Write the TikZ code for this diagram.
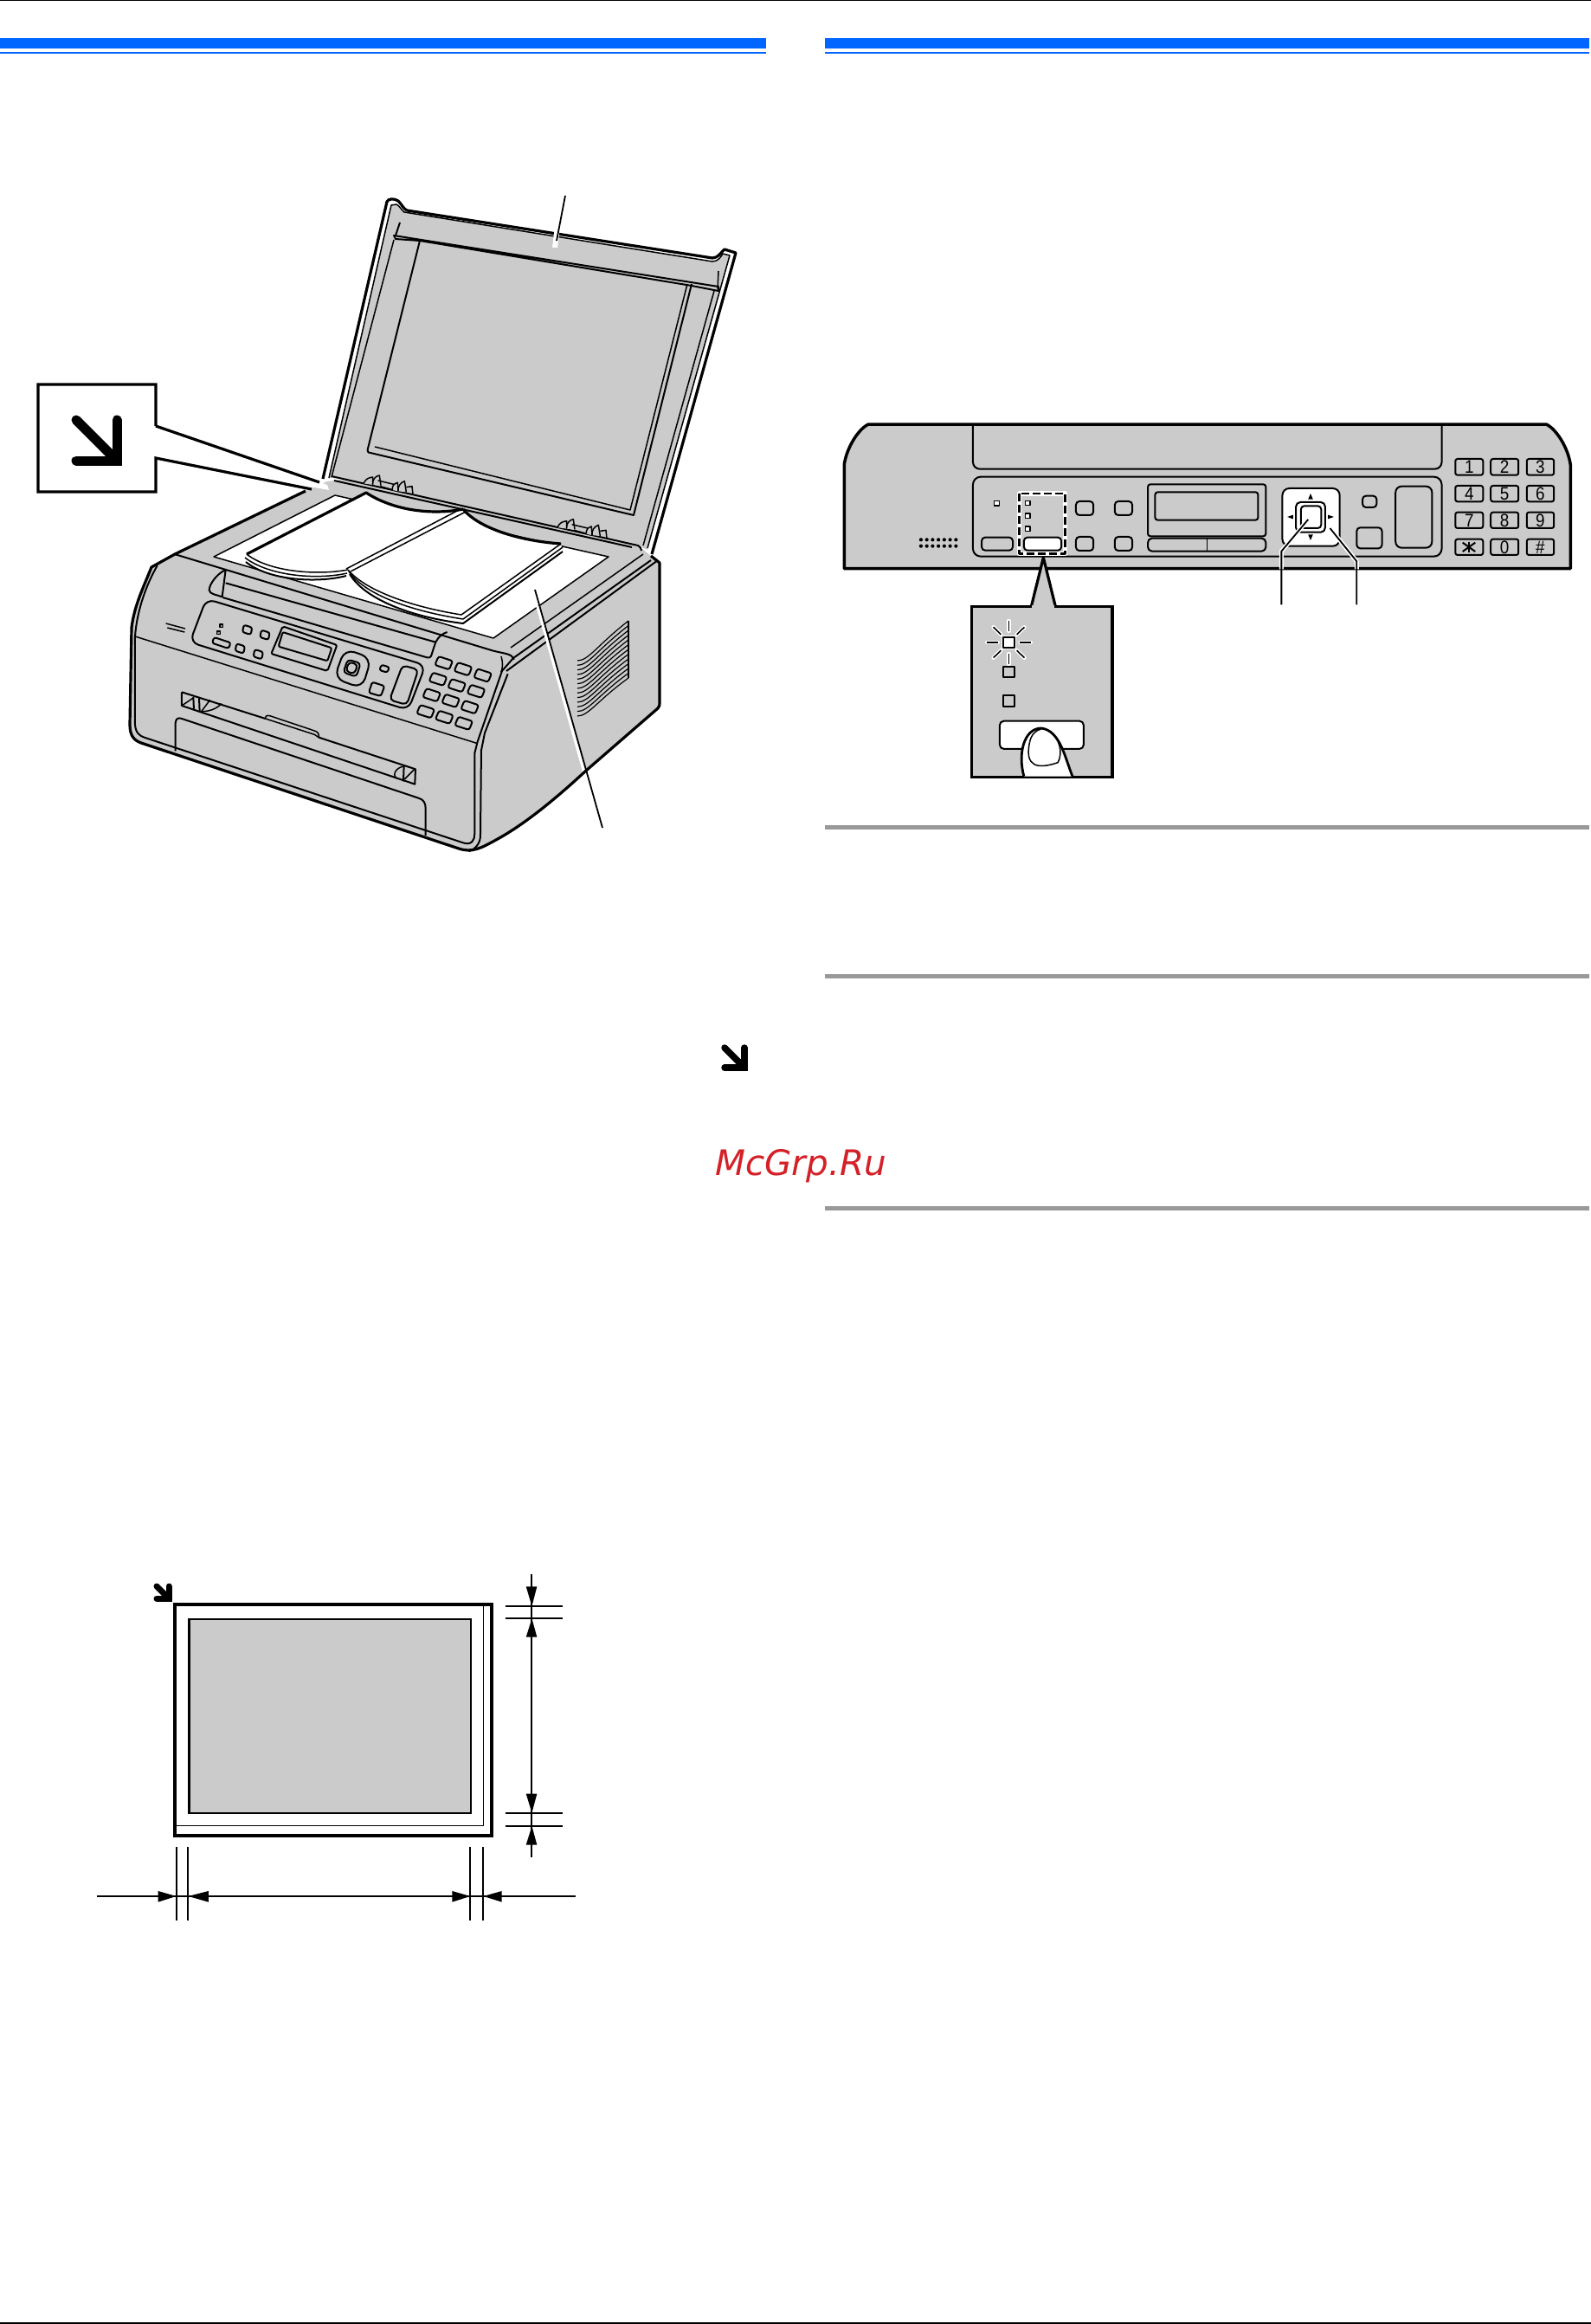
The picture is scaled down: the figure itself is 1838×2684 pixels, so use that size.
\documentclass[tikz,border=0pt]{standalone}
\usepackage{fontspec}
\setmainfont{DejaVu Sans}
\newfontfamily\keyfont{Liberation Sans}
\definecolor{ink}{HTML}{000000}
\definecolor{fillgray}{HTML}{CBCBCB}
\definecolor{barblue}{HTML}{0066FF}
\definecolor{rulegray}{HTML}{999999}
\definecolor{markred}{HTML}{D42027}
\tikzset{
  thinl/.style={draw=ink,line width=1.5pt},
  medl/.style={draw=ink,line width=2pt},
  heavyl/.style={draw=ink,line width=3.2pt},
  gfill/.style={fill=fillgray},
  wfill/.style={fill=white},
  leaderl/.style={draw=ink,line width=1.8pt},
  keycap/.style={draw=ink,line width=2pt,rounded corners=2.5pt},
  softbtn/.style={draw=ink,line width=2pt,rounded corners=4pt},
  dimhead/.style={fill=ink,draw=none},
  P5/.style={shift={(130pt,-640pt)},x=0.3333pt,y=-0.3333pt},
  HG/.style={shift={(400pt,-540pt)},x=0.3333pt,y=-0.3333pt},
  PN/.style={shift={(950pt,-460pt)},x=0.5612pt,y=-0.3333pt},
  P3/.style={shift={(80pt,-1800pt)},x=0.395pt,y=-0.3333pt},
}
\newcommand{\markarrow}[4]{% x, y of the lower-left end, size, width
  \draw[draw=ink,line width=#4pt,line cap=round] (#1,#2-#3) -- ++(#3,#3);
  \draw[draw=ink,line width=#4pt,line cap=round,line join=miter] (#1,#2) -- ++(#3,0) -- ++(0,-#3);
}
\newcommand{\prkey}[2]{\draw[keycap,shift={(#1,#2)}] (-18,-23) -- (31,-7) -- (19,23) -- (-31,7) -- cycle;}
\newcommand{\prbtn}[2]{\draw[keycap,shift={(#1,#2)}] (-12,-17) -- (17,-8) -- (12,17) -- (-17,8) -- cycle;}
\newcommand{\pkey}[6]{\draw[keycap] (#1,#2) rectangle (#3,#4); \node[font=\keyfont\fontsize{21}{21}\selectfont,inner sep=0pt,xscale=0.9] (#6) at ({(#1+#3)/2},{(#2+#4)/2}) {#5};}
\newcommand{\hingepart}{%
  \draw[thinl,gfill] (60,55) .. controls (68,38) and (78,35) .. (92,33) -- (92,60);
  \draw[thinl,gfill] (92,60) .. controls (90,42) and (100,30) .. (115,27) -- (120,62);
  \draw[thinl] (110,45) -- (165,58);
  \draw[thinl] (118,65) -- (160,77);
  \draw[thinl,gfill] (160,78) .. controls (158,65) and (165,55) .. (178,52) -- (180,82);
  \draw[thinl,gfill] (180,82) .. controls (178,65) and (188,52) .. (202,47) -- (208,85);
  \draw[thinl] (208,68) -- (228,65) -- (231,93);
}
\begin{document}
\begin{tikzpicture}[x=1pt,y=-1pt,line join=round]
\useasboundingbox (0,0) rectangle (1838,2684);
\fill[white] (0,0) rectangle (1838,2684);
% page furniture
\fill[ink] (0,0) rectangle (1838,1.5);
\fill[ink] (0,2682) rectangle (1838,2684);
\fill[barblue] (0,44) rectangle (885,56);
\fill[barblue] (0,60) rectangle (885,62);
\fill[barblue] (953,44) rectangle (1836,56);
\fill[barblue] (953,60) rectangle (1836,62);
\fill[rulegray] (953,953) rectangle (1836,958);
\fill[rulegray] (953,1125) rectangle (1836,1130);
\fill[rulegray] (953,1393) rectangle (1836,1398);
% ---------- printer: body fill
\path[gfill] (353,567) -- (202,640) -- (175,655) .. controls (165,680) and (155,700) .. (152,725) -- (150,837)
  .. controls (150,850) and (155,855) .. (163,858) -- (530,980) .. controls (545,985) and (555,980) .. (573,970)
  .. controls (610,950) and (650,915) .. (677,890) -- (760,818) .. controls (762,815) and (762,815) .. (762,812) -- (762,650) -- (752,642) -- (737,630) -- (400,553) -- (378,556) -- cycle;
% lid
\path[wfill] (373,553) -- (447,233) .. controls (449,229) and (455,229) .. (460,232) .. controls (464,236) and (466,241) .. (470,243) -- (823,298) .. controls (830,298) and (833,291) .. (837,288) -- (850,292) -- (753,640) -- (737,630) -- (400,553) -- cycle;
\path[gfill] (380,552) -- (452,237) -- (458,236) .. controls (462,238) and (464,243) .. (467,245) -- (823,302) .. controls (830,302) and (833,296) .. (835,293) -- (843,295) -- (748,635) -- (737,630) -- (400,553) -- cycle;
\draw[heavyl] (373,553) -- (447,233) .. controls (449,229) and (455,229) .. (460,232) .. controls (464,236) and (466,241) .. (470,243) -- (823,298) .. controls (830,298) and (833,291) .. (837,288) -- (850,292) -- (753,640);
\draw[thinl] (380,552) -- (452,237) -- (458,236) .. controls (462,238) and (464,243) .. (467,245) -- (823,302) .. controls (830,302) and (833,296) .. (835,293) -- (843,295) -- (748,633);
% lid inner lines
\draw[medl] (462,257) -- (457,272);
\draw[medl] (455,272) -- (830,331) -- (830,336) -- (799,330) -- (485,278) -- (457,276) -- cycle;
\draw[thinl] (455,277) -- (383,551);
\draw[medl] (485,278) -- (425,518) .. controls (424,521) and (425,523) .. (428,523) -- (732,595) -- (799,328);
\draw[thinl] (433,516) -- (728,589) -- (794,328);
\draw[thinl] (830,313) -- (829,334);
\draw[thinl] (825,336) -- (743,630);
% lid hinge edge
\draw[medl] (383,550) -- (737,630) .. controls (740,632) and (741,634) .. (741,636);
\draw[medl] (386,555) -- (730,632);
% hinges
\begin{scope}[HG] \hingepart \end{scope}
\begin{scope}[HG,shift={(224pt,-50.7pt)}] \hingepart \end{scope}
% glass
\path[wfill] (247,643) -- (387,572) -- (703,643) -- (570,737) -- cycle;
\draw[thinl] (387,572) -- (703,643) -- (570,737) -- (247,643) -- cycle;
% book
\path[wfill] (285,640) -- (423,569) .. controls (455,590) and (500,595) .. (535,588)
 .. controls (555,612) and (605,625) .. (648,628) -- (650,638) -- (535,720) .. controls (470,710) and (420,690) .. (402,664)
 .. controls (360,672) and (300,668) .. (283,648) -- cycle;
\draw[heavyl] (285,640) -- (423,569) .. controls (455,590) and (500,595) .. (535,588);
\draw[heavyl] (535,588) .. controls (555,612) and (605,625) .. (648,628);
\draw[thinl] (648,628) -- (533,710) .. controls (470,700) and (420,680) .. (402,658);
\draw[thinl] (285,640) .. controls (310,660) and (365,665) .. (402,658);
\draw[thinl] (530,589) -- (400,657);
\draw[thinl] (538,591) -- (405,660);
\draw[thinl] (283,644) .. controls (310,665) and (365,670) .. (401,662);
\draw[medl] (284,649) .. controls (310,670) and (365,674) .. (400,665);
\draw[thinl] (650,632) -- (535,715) .. controls (470,705) and (420,685) .. (403,660);
\draw[medl] (650,637) -- (535,720) .. controls (470,712) and (420,690) .. (404,663);
% side vent
\foreach \i in {0,...,12} {\draw[thinl,line width=1.2pt] (667,{763+\i*5.33}) .. controls (680,{763+\i*5.33}) and (690,{745+\i*5.33}) .. (726,{717+\i*5.5});}
\draw[thinl] (726,717) -- (726,783);
% right rim lines
\draw[thinl] (590,748) -- (743,640);
\draw[medl] (593,760) -- (752,647);
\draw[medl] (585,775) -- (760,647);
\draw[medl] (579,776) -- (593,760);
\draw[thinl] (579,758) .. controls (581,765) and (581,770) .. (579,776);
% callout
\path[wfill] (44,444) -- (180,444) -- (180,492) -- (378,560) -- (380,566) -- (180,529) -- (180,568) -- (44,568) -- cycle;
\draw[heavyl,line join=miter] (180,492) -- (180,444) -- (44,444) -- (44,568) -- (180,568) -- (180,529) -- (360,565);
\draw[heavyl] (180,492) -- (369,557);
\markarrow{88}{532}{47}{11}
% leaders
\draw[draw=white,line width=6pt] (644,262) -- (641,286);
\draw[leaderl] (653,226) -- (643,278);
\draw[draw=white,line width=3.5pt] (621,700) -- (675,892);
% body outlines
\draw[heavyl] (353,567) -- (202,640) -- (175,655) .. controls (165,680) and (155,700) .. (152,725) -- (150,837)
  .. controls (150,850) and (155,855) .. (163,858) -- (530,980) .. controls (545,985) and (555,980) .. (573,970)
  .. controls (610,950) and (650,915) .. (677,890) -- (760,818) .. controls (762,815) and (762,815) .. (762,812) -- (762,650) -- (752,642);
\draw[leaderl] (618,681) -- (696,956);
\begin{scope}[P5]
\draw[medl] (155,40) .. controls (120,100) and (85,190) .. (78,285) -- (78,590) .. controls (80,620) and (95,630) .. (110,635) -- (1215,1000) .. controls (1245,1010) and (1255,990) .. (1255,970) -- (1255,690) -- (1265,650) -- (1350,405);
\draw[medl] (1370,415) -- (1290,620) -- (1278,680) -- (1275,980) .. controls (1272,1010) and (1250,1025) .. (1235,1030);
\draw[thinl] (78,285) -- (1262,655);
% top front edge
\draw[medl] (215,0) -- (1320,335) .. controls (1360,345) and (1385,345) .. (1392,365);
% tray notch
\draw[medl] (390,55) .. controls (360,70) and (335,105) .. (335,125) .. controls (338,140) and (360,140) .. (380,148) -- (392,55);
\draw[medl] (392,100) -- (1120,305);
\draw[medl] (382,150) -- (1090,358) .. controls (1105,362) and (1105,350) .. (1110,335) -- (1120,305) .. controls (1130,285) and (1145,275) .. (1160,270);
% control panel
\draw[medl,rounded corners=10pt] (325,155) -- (1085,385) -- (1025,540) -- (268,305) -- cycle;
\draw[thinl] (185,240) -- (252,258);
\draw[thinl] (190,255) -- (250,270);
\draw[thinl,fill=fillgray!70!black] (372,243) rectangle (382,253);
\draw[thinl,fill=fillgray!70!black] (362,267) rectangle (373,278);
\draw[keycap] (352,288) -- (410,307) -- (402,327) -- (345,308) -- cycle;
\prbtn{467}{262}\prbtn{528}{280}\prbtn{442}{327}\prbtn{505}{347}
\draw[medl,rounded corners=2pt] (590,250) -- (778,315) -- (745,405) -- (550,345) -- cycle;
\draw[medl,rounded corners=2pt] (590,270) -- (760,325) -- (745,370) -- (575,320) -- cycle;
\draw[medl,rounded corners=12pt] (805,328) -- (897,360) -- (865,465) -- (768,430) -- cycle;
\draw[medl,rounded corners=4pt] (815,365) -- (860,378) -- (845,425) -- (800,410) -- cycle;
\draw[medl,rounded corners=4pt] (820,373) -- (850,383) -- (838,415) -- (808,405) -- cycle;
\draw[keycap] (932,383) -- (960,392) -- (952,410) -- (925,402) -- cycle;
\draw[keycap] (900,443) -- (943,457) -- (930,492) -- (888,480) -- cycle;
\draw[medl,rounded corners=5pt] (1005,385) -- (1060,400) -- (1020,522) -- (960,505) -- cycle;
\prkey{1148}{377}\prkey{1215}{398}\prkey{1283}{420}
\prkey{1128}{433}\prkey{1193}{455}\prkey{1260}{475}
\prkey{1106}{488}\prkey{1172}{508}\prkey{1238}{530}
\prkey{1085}{545}\prkey{1150}{565}\prkey{1217}{586}
% paper slot
\draw[medl] (240,478) -- (530,570);
\draw[medl] (240,478) -- (240,525) -- (1048,797) -- (1050,745) -- (715,635);
\draw[thinl] (530,570) .. controls (530,560) and (535,558) .. (545,560) -- (700,612) .. controls (712,616) and (716,622) .. (715,635);
\draw[thinl] (530,570) -- (700,625) -- (715,635);
\draw[medl] (280,495) -- (282,540); \draw[medl] (300,495) -- (302,548);
\draw[thinl] (240,525) -- (280,498);
\draw[thinl] (308,545) -- (338,505);
\draw[thinl] (308,545) .. controls (340,545) and (360,535) .. (378,518);
\draw[medl] (1010,735) -- (1008,787);
\draw[thinl] (988,778) .. controls (968,770) and (978,740) .. (1010,735);
\draw[thinl] (1012,780) -- (1045,747);
% cover
\draw[medl] (218,682) -- (218,585) .. controls (220,568) and (228,566) .. (240,570) -- (1060,845) .. controls (1080,850) and (1085,865) .. (1085,880) -- (1085,975);
\end{scope}
% ---------- control panel
\begin{scope}[PN]
\draw[heavyl,gfill,line width=3.5pt] (45,590) -- (45,230) .. controls (50,170) and (75,105) .. (95,90) -- (1490,90)
  .. controls (1510,105) and (1535,170) .. (1540,230) -- (1540,590) -- cycle;
\draw[medl,rounded corners=8pt] (310,92) -- (310,245) -- (1275,245) -- (1275,92);
\draw[medl,rounded corners=9pt] (310,272) rectangle (1275,548);
\foreach \y in {490,512} \foreach \x in {203,215,...,277} {\fill[ink] (\x,\y) circle[radius=2.1pt];}
\draw[thinl,fill=white] (354,355) rectangle (364,372);
\foreach \y in {363,407,452} {\draw[thinl,fill=white] (418,\y-8) rectangle (428,\y+8);}
\draw[softbtn] (328,482) rectangle (392,527);
\draw[softbtn,fill=white] (415,482) rectangle (492,527);
\draw[white,line width=5.5pt] (405,330) rectangle (500,538);
\draw[ink,line width=2.6pt,dash pattern=on 9pt off 4pt] (405,330) rectangle (500,538);
\foreach \x in {540,620} \foreach \y in {381,504} {\draw[softbtn] (\x-18,\y-24) rectangle (\x+18,\y+24);}
\draw[medl,rounded corners=3pt] (670,298) rectangle (913,478);
\draw[medl,rounded corners=3pt] (685,325) rectangle (897,422);
\draw[medl,rounded corners=5pt] (670,485) rectangle (913,530);
\draw[thinl] (792,485) -- (792,530);
\draw[medl,fill=white,rounded corners=8pt] (947,312) rectangle (1065,512);
\draw[medl,rounded corners=5pt] (975,360) rectangle (1035,464);
\draw[medl,rounded corners=4pt] (985,373) rectangle (1027,450);
\fill[ink] (1005,330) -- (1000,350) -- (1010,350) -- cycle;
\fill[ink] (1005,492) -- (1000,472) -- (1010,472) -- cycle;
\fill[ink] (957,411) -- (969,404) -- (969,418) -- cycle;
\fill[ink] (1053,411) -- (1041,404) -- (1041,418) -- cycle;
\draw[softbtn] (1112,338) rectangle (1141,378);
\draw[softbtn] (1100,448) rectangle (1152,520);
\draw[softbtn,rounded corners=7pt] (1180,305) rectangle (1255,518);
\pkey{1303}{210}{1360}{266}{1}{k1}
\pkey{1376}{210}{1433}{266}{2}{k2}
\pkey{1450}{210}{1506}{266}{3}{k3}
\pkey{1303}{303}{1360}{358}{4}{k4}
\pkey{1376}{303}{1433}{358}{5}{k5}
\pkey{1450}{303}{1506}{358}{6}{k6}
\pkey{1303}{395}{1360}{450}{7}{k7}
\pkey{1376}{395}{1433}{450}{8}{k8}
\pkey{1450}{395}{1506}{450}{9}{k9}
\draw[keycap] (1303,488) rectangle (1360,543);
\draw[medl] (1331,497) -- (1331,534);
\draw[medl] (1318,500) -- (1344,531);
\draw[medl] (1344,500) -- (1318,531);
\pkey{1376}{488}{1433}{543}{0}{k0}
\pkey{1450}{488}{1506}{543}{\#}{khash}
% leaders
\draw[draw=white,line width=5pt] (1000,420) -- (945,530) -- (945,592);
\draw[draw=white,line width=5pt] (1045,450) -- (1100,565) -- (1100,592);
\draw[leaderl] (1000,420) -- (945,530) -- (945,715);
\draw[leaderl] (1045,450) -- (1100,565) -- (1100,715);
% zoom callout
\path[gfill] (455,560) -- (430,722) -- (480,722) -- cycle;
\draw[heavyl] (430,722) -- (455,552) -- (480,722);
\draw[heavyl,gfill,line width=3.5pt,line join=miter] (307,722) rectangle (597,1313);
\path[gfill] (432,716) rectangle (478,726);
\foreach \a in {0,45,...,315} {
  \draw[draw=white,line width=4.5pt,line cap=round] ({384+cos(\a)*23},{846-sin(\a)*39}) -- ({384+cos(\a)*45},{846-sin(\a)*75});
  \draw[draw=ink,line width=1.6pt] ({384+cos(\a)*23},{846-sin(\a)*39}) -- ({384+cos(\a)*45},{846-sin(\a)*75});
}
\draw[draw=white,line width=3.5pt] (372,828) rectangle (396,865);
\draw[medl,line width=2.2pt,fill=white] (372,828) rectangle (396,865);
\draw[medl,line width=2.2pt] (372,930) rectangle (396,967);
\draw[medl,line width=2.2pt] (372,1030) rectangle (396,1068);
\draw[softbtn,fill=white,rounded corners=5pt] (365,1118) rectangle (538,1215);
\draw[draw=ink,line width=2.8pt,fill=white] (415,1310) .. controls (402,1230) and (415,1145) .. (450,1143) .. controls (490,1150) and (500,1250) .. (515,1310);
\draw[thinl] (427,1190) .. controls (415,1280) and (445,1285) .. (485,1262) .. controls (495,1230) and (490,1180) .. (467,1152);
\draw[thinl] (427,1190) .. controls (430,1165) and (440,1150) .. (450,1146);
\end{scope}
% small arrow, watermark
\markarrow{837}{1233}{23}{7.5}
\node[font=\fontsize{40.5}{40}\selectfont\itshape,text=markred,anchor=base west,inner sep=0pt] (mark) at (826,1357) {McGrp.Ru};
% ---------- page diagram
\begin{scope}[P3]
\draw[ink,line width=4pt,line join=miter] (310,160) rectangle (1236,960);
\draw[thinl,line width=1.2pt] (314,925) -- (1212,925) -- (1212,163);
\draw[medl,fill=fillgray,line width=2.6pt,line join=miter] (350,210) rectangle (1175,882);
\foreach \y in {165,208,881,927} {\draw[medl] (1275,\y) -- (1443,\y);}
\draw[medl] (1353,55) -- (1353,1035);
\path[dimhead] (1353,165) -- (1336,97) -- (1368,97) -- cycle;
\path[dimhead] (1353,208) -- (1336,272) -- (1368,272) -- cycle;
\path[dimhead] (1353,881) -- (1336,815) -- (1368,815) -- cycle;
\path[dimhead] (1353,927) -- (1336,992) -- (1368,992) -- cycle;
\foreach \x in {313,348,1173,1211} {\draw[medl] (\x,1000) -- (\x,1255);}
\draw[medl] (80,1170) -- (1482,1170);
\path[dimhead] (313,1170) -- (260,1152) -- (260,1190) -- cycle;
\path[dimhead] (348,1170) -- (407,1152) -- (407,1190) -- cycle;
\path[dimhead] (1173,1170) -- (1120,1152) -- (1120,1190) -- cycle;
\path[dimhead] (1211,1170) -- (1265,1152) -- (1265,1190) -- cycle;
\end{scope}
\markarrow{181}{1846}{14}{7}
\end{tikzpicture}
\end{document}
